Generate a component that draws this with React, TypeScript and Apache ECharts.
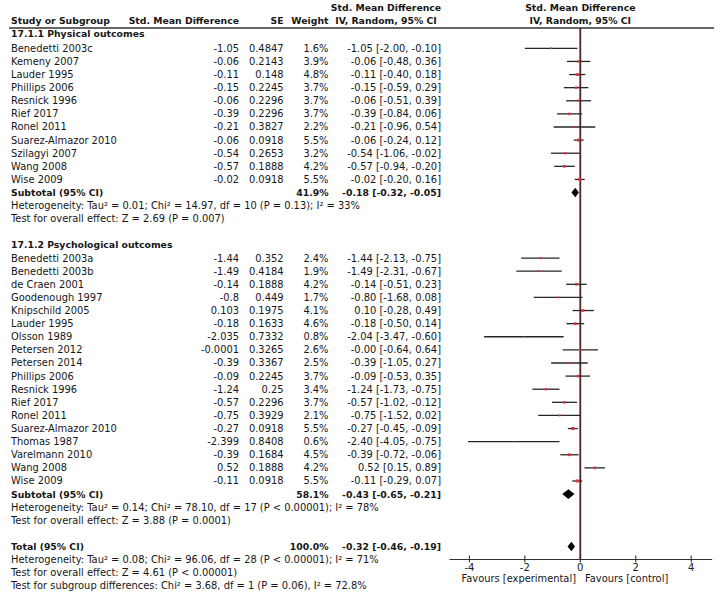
import React, { useEffect, useRef } from "react";
import * as echarts from "echarts";

// ---------- data ----------
const physNames = ["Benedetti 2003c", "Kemeny 2007", "Lauder 1995", "Phillips 2006", "Resnick 1996", "Rief 2017", "Ronel 2011", "Suarez-Almazor 2010", "Szilagyi 2007", "Wang 2008", "Wise 2009"];
const physSmd = [-1.05, -0.06, -0.11, -0.15, -0.06, -0.39, -0.21, -0.06, -0.54, -0.57, -0.02];
const physSe = [0.4847, 0.2143, 0.148, 0.2245, 0.2296, 0.2296, 0.3827, 0.0918, 0.2653, 0.1888, 0.0918];
const physWeight = [1.6, 3.9, 4.8, 3.7, 3.7, 3.7, 2.2, 5.5, 3.2, 4.2, 5.5];
const physEst = [-1.05, -0.06, -0.11, -0.15, -0.06, -0.39, -0.21, -0.06, -0.54, -0.57, -0.02];
const physLower = [-2.0, -0.48, -0.4, -0.59, -0.51, -0.84, -0.96, -0.24, -1.06, -0.94, -0.2];
const physUpper = [-0.1, 0.36, 0.18, 0.29, 0.39, 0.06, 0.54, 0.12, -0.02, -0.2, 0.16];

const psychNames = ["Benedetti 2003a", "Benedetti 2003b", "de Craen 2001", "Goodenough 1997", "Knipschild 2005", "Lauder 1995", "Olsson 1989", "Petersen 2012", "Petersen 2014", "Phillips 2006", "Resnick 1996", "Rief 2017", "Ronel 2011", "Suarez-Almazor 2010", "Thomas 1987", "Varelmann 2010", "Wang 2008", "Wise 2009"];
const psychSmd = [-1.44, -1.49, -0.14, -0.8, 0.103, -0.18, -2.035, -0.0001, -0.39, -0.09, -1.24, -0.57, -0.75, -0.27, -2.399, -0.39, 0.52, -0.11];
const psychSe = [0.352, 0.4184, 0.1888, 0.449, 0.1975, 0.1633, 0.7332, 0.3265, 0.3367, 0.2245, 0.25, 0.2296, 0.3929, 0.0918, 0.8408, 0.1684, 0.1888, 0.0918];
const psychWeight = [2.4, 1.9, 4.2, 1.7, 4.1, 4.6, 0.8, 2.6, 2.5, 3.7, 3.4, 3.7, 2.1, 5.5, 0.6, 4.5, 4.2, 5.5];
const psychEst = [-1.44, -1.49, -0.14, -0.8, 0.1, -0.18, -2.04, -0.0, -0.39, -0.09, -1.24, -0.57, -0.75, -0.27, -2.4, -0.39, 0.52, -0.11];
const psychLower = [-2.13, -2.31, -0.51, -1.68, -0.28, -0.5, -3.47, -0.64, -1.05, -0.53, -1.73, -1.02, -1.52, -0.45, -4.05, -0.72, 0.15, -0.29];
const psychUpper = [-0.75, -0.67, 0.23, 0.08, 0.49, 0.14, -0.6, 0.64, 0.27, 0.35, -0.75, -0.12, 0.02, -0.09, -0.75, -0.06, 0.89, 0.07];

const groupTitles = ["17.1.1 Physical outcomes", "17.1.2 Psychological outcomes"];
const subtotalWeight = [41.9, 58.1];
const subtotalEst = [-0.18, -0.43];
const subtotalLower = [-0.32, -0.65];
const subtotalUpper = [-0.05, -0.21];
const subtotalHet = [
  "Heterogeneity: Tau² = 0.01; Chi² = 14.97, df = 10 (P = 0.13); I² = 33%",
  "Heterogeneity: Tau² = 0.14; Chi² = 78.10, df = 17 (P < 0.00001); I² = 78%",
];
const subtotalTest = ["Test for overall effect: Z = 2.69 (P = 0.007)", "Test for overall effect: Z = 3.88 (P = 0.0001)"];

const totalWeight = 100.0;
const totalEst = -0.32;
const totalLower = -0.46;
const totalUpper = -0.19;
const totalNotes = [
  "Heterogeneity: Tau² = 0.08; Chi² = 96.06, df = 28 (P < 0.00001); I² = 71%",
  "Test for overall effect: Z = 4.61 (P < 0.00001)",
  "Test for subgroup differences: Chi² = 3.68, df = 1 (P = 0.06), I² = 72.8%",
];

const xTicks = [-4, -2, 0, 2, 4];
const nullEffect = 0;

// ---------- layout ----------
const FONT = '"DejaVu Sans", Verdana, sans-serif';
const REG = 9.9;
const BOLD = 9.3;
const TXT = "#161616";
const X_MIN = -4.7;
const X_MAX = 4.74;
const Y_MIN = -1.55;
const Y_MAX = 38.95;
const NAME_X = 11;
const SMD_X = 239;
const SE_X = 283.5;
const W_X = 328.5;
const CI_X = 441;

const fmt = (v: number) => (v < 0 || Object.is(v, -0) ? "-" : "") + Math.abs(v).toFixed(2);
const ciText = (e: number, l: number, u: number) => `${fmt(e)} [${fmt(l)}, ${fmt(u)}]`;

type Cell = { row: number; x: number; text: string; align: string; bold: boolean };

function buildCells(): Cell[] {
  const cells: Cell[] = [];
  const add = (row: number, x: number, text: string, align: string, bold = false) =>
    cells.push({ row, x, text, align, bold });
  const groups = [
    { names: physNames, smd: physSmd, se: physSe, w: physWeight, est: physEst, lo: physLower, up: physUpper, start: 0 },
    { names: psychNames, smd: psychSmd, se: psychSe, w: psychWeight, est: psychEst, lo: psychLower, up: psychUpper, start: 16 },
  ];
  groups.forEach((g, gi) => {
    add(gi === 0 ? g.start - 1.1 : g.start - 1, NAME_X, groupTitles[gi], "left", true);
    g.names.forEach((n, i) => {
      const r = g.start + i;
      add(r, NAME_X, n, "left");
      add(r, SMD_X, String(g.smd[i]), "right");
      add(r, SE_X, String(g.se[i]), "right");
      add(r, W_X, g.w[i].toFixed(1) + "%", "right");
      add(r, CI_X, ciText(g.est[i], g.lo[i], g.up[i]), "right");
    });
    const s = g.start + g.names.length;
    add(s, NAME_X, "Subtotal (95% CI)", "left", true);
    add(s, W_X, subtotalWeight[gi].toFixed(1) + "%", "right", true);
    add(s, CI_X, ciText(subtotalEst[gi], subtotalLower[gi], subtotalUpper[gi]), "right", true);
    add(s + 1, NAME_X, subtotalHet[gi], "left");
    add(s + 2, NAME_X, subtotalTest[gi], "left");
  });
  add(38, NAME_X, "Total (95% CI)", "left", true);
  add(38, W_X, totalWeight.toFixed(1) + "%", "right", true);
  add(38, CI_X, ciText(totalEst, totalLower, totalUpper), "right", true);
  totalNotes.forEach((t, i) => add(39 + i, NAME_X, t, "left"));
  return cells;
}

export default function App() {
  const ref = useRef<HTMLDivElement>(null);
  useEffect(() => {
    if (!ref.current) return;
    const chart = echarts.init(ref.current, undefined, { renderer: "svg" });
    const cells = buildCells();

    const studyData: number[][] = [];
    physEst.forEach((e, i) => studyData.push([e, i, physLower[i], physUpper[i], physWeight[i]]));
    psychEst.forEach((e, i) => studyData.push([e, 16 + i, psychLower[i], psychUpper[i], psychWeight[i]]));

    const diamondData = [
      [subtotalEst[0], 11, subtotalLower[0], subtotalUpper[0]],
      [subtotalEst[1], 34, subtotalLower[1], subtotalUpper[1]],
      [totalEst, 38, totalLower, totalUpper],
    ];

    const headerText = (x: number, y: number, text: string, align: string) => ({
      type: "text",
      x,
      y,
      style: { text, align, verticalAlign: "middle", font: `bold ${BOLD}px ${FONT}`, fill: TXT },
    });

    chart.setOption({
      animation: false,
      backgroundColor: "#ffffff",
      grid: { left: 450, right: 12.3, top: 28, bottom: 36, containLabel: false, outerBoundsMode: "none" },
      xAxis: {
        type: "value",
        min: X_MIN,
        max: X_MAX,
        axisLine: { show: true, onZero: false, lineStyle: { color: "#333", width: 1.2 } },
        axisTick: { show: false },
        splitLine: { show: false },
        axisLabel: {
          customValues: xTicks,
          margin: 3,
          fontSize: 10,
          fontFamily: FONT,
          color: "#222",
          formatter: (v: number) => String(v),
        },
      },
      yAxis: {
        type: "value",
        inverse: true,
        min: Y_MIN,
        max: Y_MAX,
        show: false,
        axisLine: { onZero: false },
        splitLine: { show: false },
      },
      graphic: [
        { type: "line", shape: { x1: 9, y1: 28, x2: 714, y2: 28 }, style: { stroke: "#333", lineWidth: 1.3 }, silent: true },
        headerText(NAME_X, 20, "Study or Subgroup", "left"),
        headerText(SMD_X, 20, "Std. Mean Difference", "right"),
        headerText(SE_X, 20, "SE", "right"),
        headerText(W_X, 20, "Weight", "right"),
        headerText(386, 7, "Std. Mean Difference", "center"),
        headerText(386, 20, "IV, Random, 95% CI", "center"),
        headerText(580.3, 7, "Std. Mean Difference", "center"),
        headerText(580.3, 20, "IV, Random, 95% CI", "center"),
        {
          type: "text",
          x: 576,
          y: 578,
          style: { text: "Favours [experimental]", align: "right", verticalAlign: "middle", font: `${REG}px ${FONT}`, fill: TXT },
        },
        {
          type: "text",
          x: 585,
          y: 578,
          style: { text: "Favours [control]", align: "left", verticalAlign: "middle", font: `${REG}px ${FONT}`, fill: TXT },
        },
      ],
      series: [
        {
          type: "custom",
          name: "table",
          silent: true,
          clip: false,
          data: cells.map((c) => [0, c.row]),
          encode: { x: 0, y: 1 },
          renderItem: (params: any, api: any) => {
            const c = cells[params.dataIndex];
            const y = api.coord([0, c.row])[1];
            return {
              type: "text",
              x: c.x,
              y,
              style: {
                text: c.text,
                align: c.align,
                verticalAlign: "middle",
                font: `${c.bold ? "bold " : ""}${c.bold ? BOLD : REG}px ${FONT}`,
                fill: TXT,
              },
            };
          },
        },
        {
          type: "custom",
          name: "axisMarks",
          silent: true,
          clip: false,
          z: 2,
          data: xTicks.map((t) => [t, Y_MAX]),
          encode: { x: 0, y: 1 },
          renderItem: (params: any, api: any) => {
            const v = api.value(0);
            const p = api.coord([v, api.value(1)]);
            const children: any[] = [
              {
                type: "line",
                shape: { x1: p[0], y1: p[1] - 3.5, x2: p[0], y2: p[1] + 3.5 },
                style: { stroke: "#333", lineWidth: 1.1 },
              },
            ];
            if (v === nullEffect) {
              const top = api.coord([v, Y_MIN]);
              children.push({
                type: "line",
                shape: { x1: p[0], y1: top[1], x2: p[0], y2: p[1] },
                style: { stroke: "#4a2626", lineWidth: 1.8 },
              });
            }
            return { type: "group", children };
          },
        },
        {
          type: "custom",
          name: "studies",
          silent: true,
          clip: false,
          z: 3,
          data: studyData,
          encode: { x: [0, 2, 3], y: 1 },
          renderItem: (params: any, api: any) => {
            const e = api.value(0), r = api.value(1), lo = api.value(2), up = api.value(3), w = api.value(4);
            const p0 = api.coord([lo, r]);
            const p1 = api.coord([up, r]);
            const pc = api.coord([e, r]);
            const s = 1.3 * Math.sqrt(w);
            return {
              type: "group",
              children: [
                { type: "line", shape: { x1: p0[0], y1: p0[1], x2: p1[0], y2: p1[1] }, style: { stroke: "#262626", lineWidth: 1.3 } },
                { type: "rect", shape: { x: pc[0] - s / 2, y: pc[1] - s / 2, width: s, height: s }, style: { fill: "#e0303c" } },
              ],
            };
          },
        },
        {
          type: "custom",
          name: "diamonds",
          silent: true,
          clip: false,
          z: 4,
          data: diamondData,
          encode: { x: [0, 2, 3], y: 1 },
          renderItem: (params: any, api: any) => {
            const e = api.value(0), r = api.value(1), lo = api.value(2), up = api.value(3);
            const p0 = api.coord([lo, r]);
            const p1 = api.coord([up, r]);
            const pc = api.coord([e, r]);
            const h = 4.8;
            return {
              type: "polygon",
              shape: { points: [[p0[0], p0[1]], [pc[0], pc[1] - h], [p1[0], p1[1]], [pc[0], pc[1] + h]] },
              style: { fill: "#000" },
            };
          },
        },
      ],
    });
    return () => chart.dispose();
  }, []);
  return <div ref={ref} style={{ position: "fixed", left: 0, top: 0, width: 724, height: 595 }} />;
}
